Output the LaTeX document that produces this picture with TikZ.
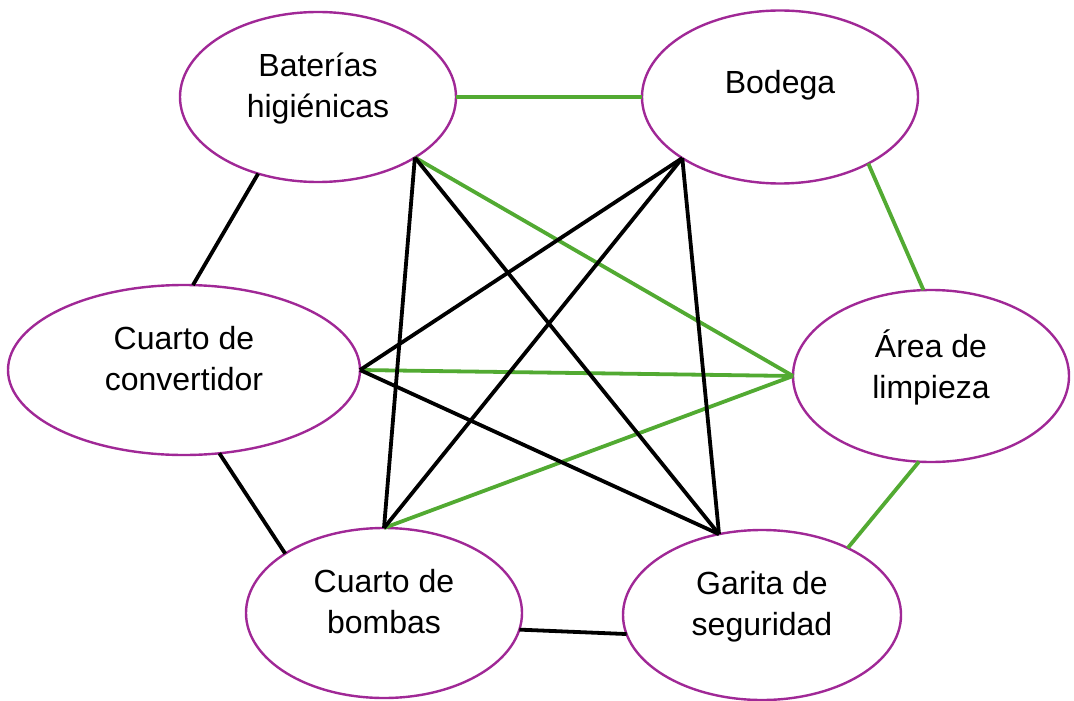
\documentclass[tikz,border=0pt]{standalone}
\usepackage{fontspec}
\setmainfont{Liberation Sans}
\usepackage{tikz}
\usetikzlibrary{shapes.geometric}
\definecolor{roomP}{RGB}{160,40,150}
\definecolor{linkG}{RGB}{82,170,50}
\tikzset{
  room/.style={ellipse, draw=roomP, line width=1.2pt, outer sep=0pt, inner sep=0pt,
    minimum width=138pt, minimum height=85pt, align=center,
    font=\fontsize{16}{20.5}\selectfont, text depth=12pt},
  greenlink/.style={draw=linkG, line width=1.9pt},
  blacklink/.style={draw=black, line width=1.9pt}
}
\begin{document}
\begin{tikzpicture}[x=0.5pt, y=-0.5pt]
\useasboundingbox (0,0) rectangle (1074,700);
% rooms
\node[room] (bat) at (318,97) {Baterías\\higiénicas};
\node[room, minimum height=86.5pt, text depth=15pt] (bod) at (780,97) {Bodega};
\node[room, minimum width=176pt] (conv) at (184,370) {Cuarto de\\convertidor};
\node[room, minimum height=86pt] (area) at (931,376) {Área de\\limpieza};
\node[room] (bomb) at (384,613) {Cuarto de\\bombas};
\node[room, minimum width=139pt] (gar) at (762,615) {Garita de\\seguridad};
% green links
\draw[greenlink] (bat.east) -- (bod.west);
\draw[greenlink] (bod.-37) -- (area.95);
\draw[greenlink] (area.-98) -- (gar.38);
\draw[greenlink] (bat.-32) -- (area.west);
\draw[greenlink] (conv.east) -- (area.west);
\draw[greenlink] (bomb.north) -- (area.west);
% black links
\draw[blacklink] (bat.-128) -- (conv.84);
\draw[blacklink] (conv.-67) -- (bomb.149);
\draw[blacklink] (bomb.-7) -- (gar.-172);
\draw[blacklink] (bat.-32) -- (bomb.north);
\draw[blacklink] (bat.-32) -- (gar.118);
\draw[blacklink] (bod.-148) -- (conv.east);
\draw[blacklink] (bod.-148) -- (bomb.north);
\draw[blacklink] (bod.-148) -- (gar.118);
\draw[blacklink] (conv.east) -- (gar.118);
\end{tikzpicture}
\end{document}
